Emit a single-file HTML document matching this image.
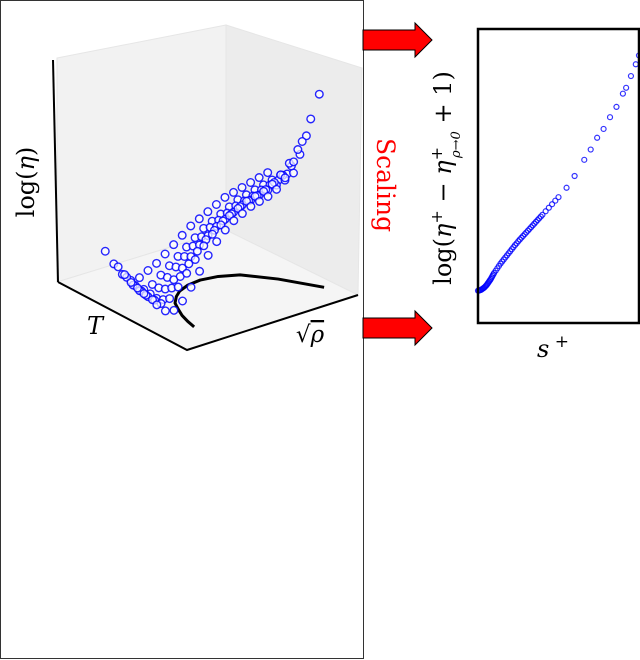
<!DOCTYPE html>
<html><head><meta charset="utf-8">
<style>
html,body{margin:0;padding:0;background:#fff;}
svg{display:block;}
text{font-family:"DejaVu Sans","Liberation Sans",sans-serif;}
</style></head>
<body>
<svg id="fig" width="640" height="660" viewBox="0 0 640 660" xmlns="http://www.w3.org/2000/svg">
  <rect x="0.5" y="0.5" width="363" height="658" fill="#fff" stroke="#333" stroke-width="1"/>
  <g>
    <polygon points="57,58 226,25 226,230 57,282" fill="#f2f2f2" stroke="#e6e6e6" stroke-width="1"/>
    <polygon points="226,25 362,68 358,295 226,230" fill="#ececec" stroke="#e6e6e6" stroke-width="1"/>
    <polygon points="57,282 226,230 358,295 187,350" fill="#f5f5f5" stroke="#e6e6e6" stroke-width="1"/>
  </g>
  <g>
    <line x1="53" y1="60" x2="58" y2="282" stroke="#000" stroke-width="2"/>
    <polyline points="58,282 187,350 358,295" fill="none" stroke="#000" stroke-width="2"/>
  </g>
  <g id="curve3d"></g>
  <g id="scatter3d"></g>
  <text x="0" y="0" transform="translate(34,182) rotate(-90)" text-anchor="middle" font-size="24" style="font-family:'DejaVu Serif','Liberation Serif',serif">log(<tspan font-style="italic">η</tspan>)</text>
  <text x="95" y="334" text-anchor="middle" font-size="24" font-style="italic" style="font-family:'DejaVu Serif','Liberation Serif',serif">T</text>
  <text x="310" y="342" text-anchor="middle" font-size="23" style="font-family:'DejaVu Serif','Liberation Serif',serif">√<tspan text-decoration="overline" font-style="italic">ρ</tspan></text>
  <polygon points="363,30 415,30 415,23 432,40 415,57 415,50 363,50" fill="#ff0000" stroke="#000" stroke-width="1"/>
  <polygon points="363,318 415,318 415,311 432,328 415,345 415,338 363,338" fill="#ff0000" stroke="#000" stroke-width="1"/>
  <text x="0" y="0" transform="translate(377,185) rotate(90)" text-anchor="middle" font-size="25" fill="#ff0000" style="font-family:'DejaVu Serif','Liberation Serif',serif">Scaling</text>
  <text x="0" y="0" transform="translate(451,178) rotate(-90)" text-anchor="middle" font-size="24" style="font-family:'DejaVu Serif','Liberation Serif',serif">log(<tspan font-style="italic">η</tspan><tspan baseline-shift="super" font-size="16">+</tspan> − <tspan font-style="italic">η</tspan><tspan baseline-shift="super" font-size="16">+</tspan><tspan dx="-11" dy="9" font-size="13" font-style="italic">ρ→0</tspan><tspan dy="-9"> + 1)</tspan></text>
  <g id="scatter2d"></g>
  <rect x="478" y="29" width="161" height="294" fill="none" stroke="#000" stroke-width="2.5"/>
  <text x="553" y="357" text-anchor="middle" font-size="24" style="font-family:'DejaVu Serif','Liberation Serif',serif"><tspan font-style="italic">s</tspan><tspan dy="-10" font-size="17"> +</tspan></text>
</svg>
<script>
const rhoVals=[0.05,0.1,0.15,0.2,0.25,0.3,0.35,0.4,0.45,0.5,0.55,0.6,0.65,0.7,0.75,0.8,0.85,0.9,0.95,1.0];
const tVals=[0.7,0.6,0.55,0.5,0.45,0.4,0.3];
const etaT70=[0.22,0.15,0.09,0.05,0.05,0.07,0.09,0.12,0.15,0.18,0.21,0.23,0.25,0.27,0.29,0.30,0.31,0.32,0.33,0.34];
const etaT60=[0.18,0.12,0.07,0.04,0.05,0.08,0.11,0.14,0.17,0.20,0.23,0.25,0.27,0.29,0.31,0.32,0.33,0.34,0.35,0.36];
const etaT55=[0.16,0.10,0.06,0.035,0.05,0.085,0.12,0.155,0.19,0.22,0.25,0.27,0.29,0.31,0.32,0.33,0.345,0.355,0.365,0.38];
const etaT50=[0.14,0.09,0.05,0.03,0.06,0.09,0.13,0.17,0.21,0.24,0.27,0.29,0.31,0.33,0.34,0.35,0.36,0.37,0.38,0.40];
const etaT45=[0.13,0.085,0.05,0.04,0.08,0.12,0.165,0.21,0.25,0.28,0.31,0.33,0.35,0.365,0.375,0.39,0.41,0.43,0.46,0.50];
const etaT40=[0.12,0.08,0.05,0.06,0.10,0.15,0.20,0.25,0.29,0.32,0.35,0.37,0.39,0.40,0.41,0.43,0.46,0.50,0.55,0.60];
const etaT30=[0.10,0.06,0.05,0.08,0.13,0.19,0.25,0.30,0.34,0.37,0.39,0.41,0.42,0.43,0.45,0.49,0.55,0.63,0.72,0.82];
const curveRho=[0.185,0.2,0.22,0.25,0.28,0.33,0.38,0.45,0.53,0.62,0.71,0.82,0.93];
const curveT=[0.19,0.26,0.33,0.40,0.464,0.52,0.56,0.59,0.60,0.58,0.53,0.38,0.17];
const sVals=[0.00,0.005,0.01,0.015,0.02,0.025,0.03,0.035,0.04,0.045,0.05,0.055,0.06,0.065,0.07,0.075,0.08,0.085,0.09,0.095,0.10,0.11,0.12,0.13,0.14,0.15,0.16,0.17,0.18,0.19,0.20,0.21,0.22,0.23,0.24,0.25,0.26,0.27,0.28,0.29,0.30,0.31,0.32,0.33,0.34,0.35,0.36,0.37,0.38,0.39,0.40,0.42,0.44,0.46,0.48,0.50,0.55,0.60,0.66,0.70,0.74,0.78,0.82,0.86,0.90,0.92,0.95,0.98,1.0];
const yVals=[0.11,0.11,0.111,0.112,0.113,0.115,0.117,0.119,0.121,0.124,0.127,0.13,0.134,0.138,0.142,0.146,0.15,0.155,0.16,0.165,0.17,0.178,0.186,0.194,0.202,0.209,0.216,0.223,0.23,0.237,0.244,0.251,0.258,0.265,0.271,0.278,0.284,0.29,0.296,0.302,0.308,0.314,0.32,0.326,0.332,0.338,0.344,0.35,0.356,0.362,0.368,0.38,0.392,0.404,0.416,0.428,0.46,0.50,0.555,0.59,0.63,0.66,0.70,0.735,0.78,0.80,0.84,0.88,0.91];
const NS='http://www.w3.org/2000/svg';
function proj(r,t,e){return [187+171*r-129*t, 350-55*r-68*t-220*e];}
function xs(s){return 478+161*s;}
function ys(v){return 323-294*v;}
const cg=document.getElementById('curve3d');
const pts=curveRho.map((r,i)=>proj(r,curveT[i],0).join(',')).join(' ');
const pl=document.createElementNS(NS,'polyline');
pl.setAttribute('points',pts);pl.setAttribute('fill','none');pl.setAttribute('stroke','#000');pl.setAttribute('stroke-width','3');pl.setAttribute('stroke-linejoin','round');


cg.appendChild(pl);
const series=[etaT70,etaT60,etaT55,etaT50,etaT45,etaT40,etaT30];
const g3=document.getElementById('scatter3d');
series.forEach((arr,k)=>{arr.forEach((e,i)=>{
  const p=proj(rhoVals[i],tVals[k],e);
  const c=document.createElementNS(NS,'circle');
  c.setAttribute('cx',p[0]);c.setAttribute('cy',p[1]);c.setAttribute('r','3.8');
  c.setAttribute('fill','#fff');c.setAttribute('fill-opacity','0.7');c.setAttribute('stroke','#0000ff');c.setAttribute('stroke-width','1.4');c.setAttribute('stroke-opacity','0.85');
  
  
  g3.appendChild(c);
});});
const g2=document.getElementById('scatter2d');
sVals.forEach((s,i)=>{
  const c=document.createElementNS(NS,'circle');
  c.setAttribute('cx',xs(s));c.setAttribute('cy',ys(yVals[i]));c.setAttribute('r','2.5');
  c.setAttribute('fill','none');c.setAttribute('stroke','#0000ff');c.setAttribute('stroke-width','1.2');c.setAttribute('stroke-opacity','0.8');
  
  
  g2.appendChild(c);
});
</script>
</body></html>
